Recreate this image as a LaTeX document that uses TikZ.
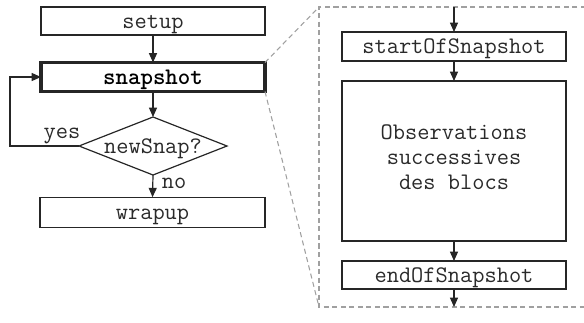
\documentclass[tikz,border=0pt]{standalone}
\usepackage{fontspec}
\usetikzlibrary{shapes.geometric,arrows.meta}
\definecolor{txt}{HTML}{2A2A2A}
\definecolor{zoomgray}{HTML}{A0A0A0}
\tikzset{
  base/.style={font=\ttfamily\fontsize{17.8}{18.4}\selectfont, text=txt, inner sep=0pt, outer sep=0pt},
  box/.style={base, draw=black!85, line width=0.9pt, minimum width=168pt, minimum height=21pt, text height=12.5pt, text depth=1.8pt},
  decision/.style={base, draw=black!85, line width=0.9pt, shape=diamond, aspect=2.55, minimum width=111pt, minimum height=43.5pt, text height=12.5pt, text depth=1.8pt},
  lbl/.style={base},
  link/.style={draw=black!85, line width=0.9pt, -{Triangle[width=6pt,length=7pt]}},
  zoomline/.style={draw=zoomgray, line width=0.8pt, dash pattern=on 3.8pt off 2.6pt},
}
\begin{document}
\begin{tikzpicture}[x=0.75pt,y=-0.75pt]
\useasboundingbox (0,0) rectangle (584,322);
% left flowchart
\node[box] (setup) at (153,21) {setup};
\node[box, line width=2.3pt, minimum height=21.75pt, font=\ttfamily\bfseries\fontsize{17.8}{18.4}\selectfont, text=black] (snap) at (153,77) {snapshot};
\node[decision] (ns) at (153,146) {newSnap?};
\node[box, minimum width=168.75pt, minimum height=23pt] (wrap) at (152.5,212.5) {wrapup};
\coordinate (yescorner) at (10,146);
\node[lbl, anchor=base] (yes) at (62,138) {yes};
\node[lbl, anchor=base] (no) at (174,188) {no};
\draw[link] (setup.south) -- (snap.north);
\draw[link] (snap.south) -- (ns.north);
\draw[link] (ns.west) -- (yescorner) |- (snap.west);
\draw[link] (ns.south) -- (wrap.north);
% zoom frame
\coordinate (zTL) at (319,7);
\coordinate (zBL) at (319,307);
\coordinate (zTR) at (586,7);
\coordinate (zBR) at (586,307);
\draw[zoomline] (zTR) -- (zTL) -- (zBL) -- (zBR);
\draw[zoomline] (snap.north east) -- (zTL);
\draw[zoomline] (snap.south east) -- (zBL);
% right detail
\node[box, minimum height=21.75pt] (start) at (454,46.5) {startOfSnapshot};
\node[box, minimum height=120pt] (obs) at (454,161) {};
\node[lbl, align=center, anchor=base] (obstext) at (454,189) {Observations\\successives\\des blocs};
\node[box] (end) at (454,275) {endOfSnapshot};
\coordinate (inTop) at (454,7);
\coordinate (outBot) at (454,307);
\draw[link] (inTop) -- (start.north);
\draw[link] (start.south) -- (obs.north);
\draw[link] (obs.south) -- (end.north);
\draw[link] (end.south) -- (outBot);
\end{tikzpicture}
\end{document}
